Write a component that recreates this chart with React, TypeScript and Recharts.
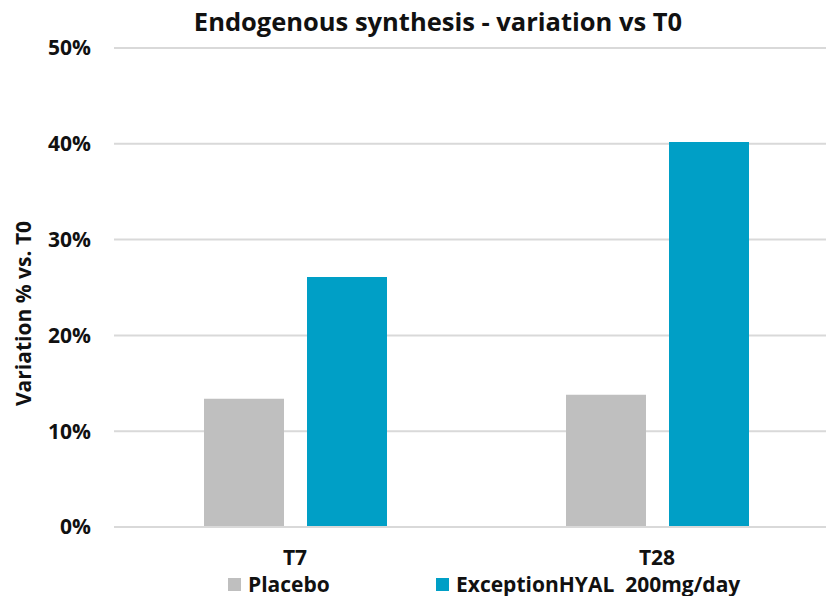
import React from 'react';
import { BarChart, Bar, XAxis, YAxis, CartesianGrid, Legend } from 'recharts';

const categories = ['T7', 'T28'];
const placeboValues = [13.4, 13.8];
const hyalValues = [26.1, 40.2];
const yTicks = [0, 10, 20, 30, 40, 50];
const seriesNames = ['Placebo', 'ExceptionHYAL  200mg/day'];
const seriesColors = ['#BFBFBF', '#009FC6'];

const data = categories.map((c, i) => ({
  name: c,
  placebo: placeboValues[i],
  hyal: hyalValues[i],
}));

const FONT = '"Open Sans", "Noto Sans", sans-serif';
const legendLefts: Record<string, number> = { placebo: 228, hyal: 436 };

const renderLegend = (props: any) => {
  const payload = props.payload || [];
  return (
    <div style={{ position: 'relative', width: 826, height: 20 }}>
      {payload.map((p: any, i: number) => (
        <div
          key={i}
          style={{
            position: 'absolute',
            left: legendLefts[p.dataKey] ?? 0,
            top: 0,
            display: 'flex',
            alignItems: 'center',
            whiteSpace: 'pre',
            fontFamily: FONT,
            fontWeight: 700,
            fontSize: 21,
            color: '#111',
            lineHeight: '20px',
            height: 20,
          }}
        >
          <span style={{ display: 'inline-block', width: 13, height: 13, background: p.color, marginRight: 7 }} />
          {p.value}
        </div>
      ))}
    </div>
  );
};

const YLabel = (props: any) => {
  const vb = props.viewBox || { x: 0, y: 0, width: 0, height: 0 };
  const cx = 31;
  const cy = vb.y + vb.height / 2 + 26;
  return (
    <text
      x={cx}
      y={cy}
      transform={`rotate(-90 ${cx} ${cy})`}
      textAnchor="middle"
      fontFamily={FONT}
      fontWeight={700}
      fontSize={21}
      fill="#111"
    >
      Variation % vs. T0
    </text>
  );
};

export default function App() {
  return (
    <div style={{ position: 'fixed', left: 0, top: 0, width: 826, height: 596, overflow: 'hidden', background: '#fff' }}>
      <div
        style={{
          position: 'absolute',
          left: 0,
          width: 876,
          top: 2,
          textAlign: 'center',
          fontFamily: FONT,
          fontWeight: 700,
          fontSize: 25.5,
          color: '#111',
          lineHeight: '38px',
        }}
      >
        Endogenous synthesis - variation vs T0
      </div>
      <BarChart
        width={850}
        height={596}
        data={data}
        margin={{ top: 48, right: 12, bottom: 0, left: 0 }}
        barGap={23}
      >
        <CartesianGrid vertical={false} stroke="#D9D9D9" strokeWidth={2} />
        <XAxis
          dataKey="name"
          axisLine={{ stroke: '#D9D9D9', strokeWidth: 2 }}
          tickLine={false}
          tickMargin={17}
          height={49}
          tick={{ fontFamily: FONT, fontWeight: 700, fontSize: 21, fill: '#111' }}
        />
        <YAxis
          width={114}
          domain={[0, 50]}
          ticks={yTicks}
          axisLine={false}
          tickLine={false}
          tickMargin={17}
          tickFormatter={(v: number) => `${v}%`}
          tick={{ fontFamily: FONT, fontWeight: 700, fontSize: 21, fill: '#111' }}
          label={<YLabel />}
        />
        <Legend
          content={renderLegend}
          wrapperStyle={{ position: 'absolute', left: 0, top: 574, width: 826, height: 20 }}
        />
        <Bar dataKey="placebo" name={seriesNames[0]} fill={seriesColors[0]} barSize={80} isAnimationActive={false} />
        <Bar dataKey="hyal" name={seriesNames[1]} fill={seriesColors[1]} barSize={80} isAnimationActive={false} />
      </BarChart>
    </div>
  );
}
